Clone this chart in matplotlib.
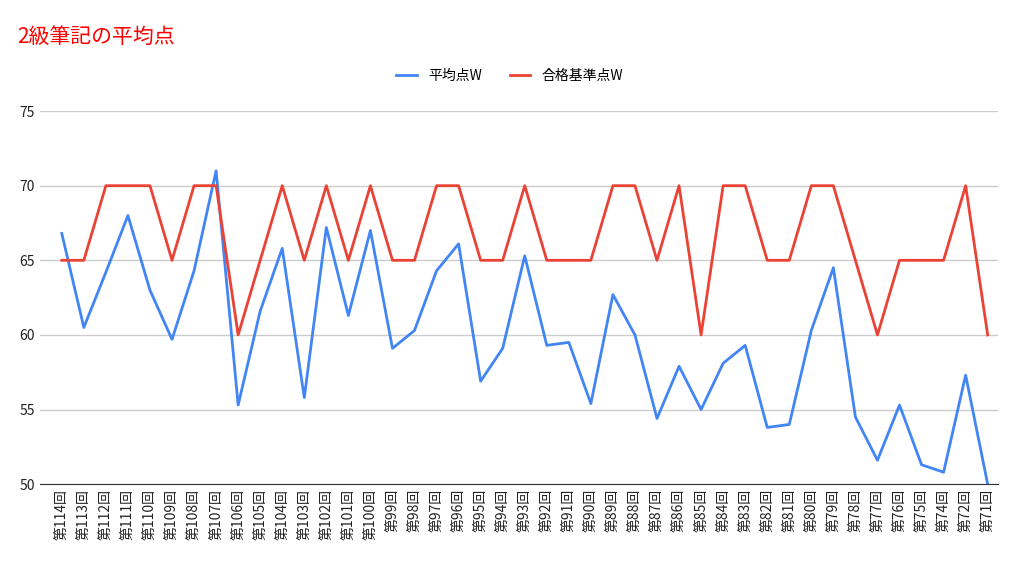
import matplotlib
matplotlib.use("Agg")
from matplotlib import pyplot as plt

plt.rcParams["font.family"] = ["Noto Sans CJK JP", "DejaVu Sans"]

rounds = [114, 113, 112, 111, 110, 109, 108, 107, 106, 105, 104, 103, 102, 101, 100,
          99, 98, 97, 96, 95, 94, 93, 92, 91, 90, 89, 88, 87, 86, 85, 84, 83, 82, 81,
          80, 79, 78, 77, 76, 75, 74, 72, 71]
labels = [f"第{r}回" for r in rounds]

average = [66.8, 60.5, 64.2, 68.0, 63.0, 59.7, 64.3, 71.0, 55.3, 61.6, 65.8, 55.8, 67.2,
           61.3, 67.0, 59.1, 60.3, 64.3, 66.1, 56.9, 59.1, 65.3, 59.3, 59.5, 55.4, 62.7,
           60.0, 54.4, 57.9, 55.0, 58.1, 59.3, 53.8, 54.0, 60.3, 64.5, 54.5, 51.6, 55.3,
           51.3, 50.8, 57.3, 50.0]
passing = [65, 65, 70, 70, 70, 65, 70, 70, 60, 65, 70, 65, 70, 65, 70, 65, 65, 70, 70,
           65, 65, 70, 65, 65, 65, 70, 70, 65, 70, 60, 70, 70, 65, 65, 70, 70, 65, 60,
           65, 65, 65, 70, 60]

fig = plt.figure(figsize=(10.19, 5.61), dpi=100)
ax = fig.add_axes([0.039, 0.137, 0.94, 0.665])
x = range(len(rounds))
ax.plot(x, average, color="#4285f4", lw=2, label="平均点W")
ax.plot(x, passing, color="#ea4335", lw=2, label="合格基準点W")

ax.set_ylim(50, 75)
ax.set_yticks([50, 55, 60, 65, 70, 75])
ax.set_xlim(-1, len(rounds) - 0.55)
ax.set_xticks(list(x))
ax.set_xticklabels(labels, rotation=90, fontsize=10)
ax.tick_params(axis="both", length=0, labelsize=10, colors="#222222")
ax.grid(axis="y", color="#cccccc", lw=1)
ax.set_axisbelow(True)
for side in ["top", "right", "left"]:
    ax.spines[side].set_visible(False)
ax.spines["bottom"].set_color("#333333")

fig.text(0.017, 0.935, "2級筆記の平均点", color="#ff0000", fontsize=15, va="center")
fig.legend(loc="center", bbox_to_anchor=(0.5, 0.865), ncol=2, frameon=False,
           fontsize=10, handlelength=1.5, columnspacing=2)

fig.savefig("out.png", dpi=100)
